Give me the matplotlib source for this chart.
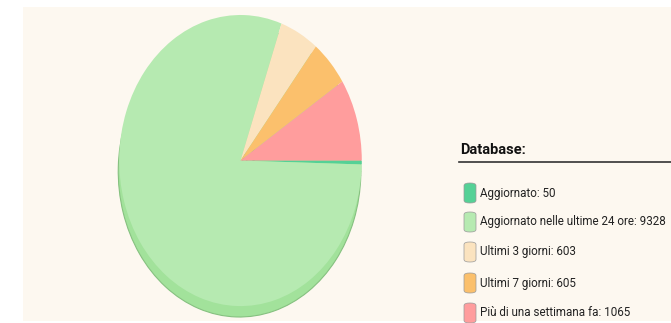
import matplotlib
matplotlib.use("Agg")
import matplotlib.pyplot as plt
from matplotlib.patches import Rectangle, FancyBboxPatch
from matplotlib.lines import Line2D

# dati
labels = [
    "Aggiornato: 50",
    "Aggiornato nelle ultime 24 ore: 9328",
    "Ultimi 3 giorni: 603",
    "Ultimi 7 giorni: 605",
    "Più di una settimana fa: 1065",
]
values = [50, 9328, 603, 605, 1065]
colors = ["#55d196", "#b6eab1", "#fbe3bf", "#fbc06c", "#ff9d9d"]
legend_title = "Database:"

W, H = 671, 323
FONT = ["Roboto", "Liberation Sans", "DejaVu Sans"]

fig = plt.figure(figsize=(W / 100, H / 100), dpi=100, facecolor="white")

def fx(px):
    return px / W

def fy(py):
    return 1 - py / H

# pannello di sfondo
fig.patches.append(Rectangle((fx(23), fy(321)), fx(W) - fx(23), fy(7) - fy(321),
                             transform=fig.transFigure, facecolor="#fdf8f0",
                             edgecolor="none", zorder=-5))

# torta (ellittica, con spessore)
depth = 0.075
ax = fig.add_axes([fx(118), fy(317), fx(363) - fx(118), fy(15) - fy(317)])
ax.set_zorder(2)
ax.set_axis_off()
ax.pie(values, colors=["#a2e29b"] * len(values), startangle=0, counterclock=False,
       center=(-0.008, -depth), radius=1,
       wedgeprops=dict(linewidth=0.8, edgecolor="#86c180"))
ax.pie(values, colors=colors, startangle=0, counterclock=False,
       center=(0, 0), radius=1, wedgeprops=dict(linewidth=0))
ax.set_aspect("auto")
ax.set_xlim(-1.01, 1.01)
ax.set_ylim(-1 - depth, 1)

# legenda
title = fig.text(fx(460), fy(150), legend_title, fontsize=11, fontweight="bold",
                 family=FONT, color="#111111", va="center", ha="left")
fig.lines.append(Line2D([fx(459), fx(W)], [fy(162), fy(162)], transform=fig.transFigure,
                        color="#333333", linewidth=1.2))

row_y = [193, 222, 252, 283, 313]
texts = []
for lab, col, y in zip(labels, colors, row_y):
    fig.patches.append(FancyBboxPatch((fx(464), fy(y + 10)), fx(476) - fx(464), fy(y - 10) - fy(y + 10),
                                      boxstyle="round,pad=0,rounding_size=0.008",
                                      transform=fig.transFigure, facecolor=col,
                                      edgecolor="#999999", linewidth=0.5))
    texts.append(fig.text(fx(480), fy(y), lab, fontsize=10.5, family=FONT,
                          color="#222222", va="center", ha="left"))

# adatta la dimensione del testo alla larghezza del riferimento
r = fig.canvas.get_renderer()
w = texts[1].get_window_extent(r).width
size = min(11.5, 10.5 * 188 / w)
for t in texts:
    t.set_fontsize(size)
wt = title.get_window_extent(r).width
title.set_fontsize(min(12, 11 * 66 / wt))

plt.savefig("out.png", dpi=100, facecolor=fig.get_facecolor())
